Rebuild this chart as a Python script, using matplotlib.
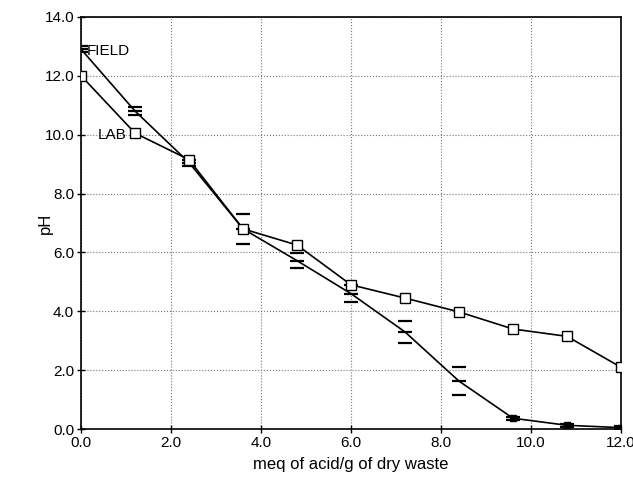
import matplotlib
matplotlib.use("Agg")
import matplotlib.pyplot as plt
import numpy as np

plt.rcParams['font.family'] = ['Liberation Sans', 'DejaVu Sans']

# acid added, meq/g of dry waste
acid = [0.0, 1.2, 2.4, 3.6, 4.8, 6.0, 7.2, 8.4, 9.6, 10.8, 12.0]

# lab titration
lab_ph = [12.0, 10.05, 9.15, 6.8, 6.25, 4.9, 4.45, 3.98, 3.4, 3.15, 2.1]

# field titration (mean and spread)
field_ph = [12.9, 10.8, 9.05, 6.8, 5.72, 4.6, 3.3, 1.63, 0.37, 0.13, 0.05]
field_err = [0.1, 0.15, 0.1, 0.5, 0.25, 0.3, 0.37, 0.47, 0.05, 0.05, 0.05]

fig = plt.figure(figsize=(6.33, 4.8), dpi=100)
ax = fig.add_axes([0.128, 0.106, 0.853, 0.859])

# field: line, short dashes for mean and error caps
ax.plot(acid, field_ph, color='black', lw=1.2, zorder=3)
ax.errorbar(acid, field_ph, yerr=field_err, fmt='none', ecolor='black',
            elinewidth=0, capsize=5, capthick=1.6, zorder=4)
ax.plot(acid[:-3], field_ph[:-3], ls='none', marker='_', ms=10, mew=1.6,
        color='black', zorder=4)
ax.plot(acid[-3:], field_ph[-3:], ls='none', marker='s', ms=5,
        color='black', zorder=5)

# lab: open squares
ax.plot(acid, lab_ph, color='black', lw=1.2, marker='s', ms=6.5,
        mfc='white', mec='black', mew=1.0, zorder=4)

ax.text(0.12, 12.85, 'FIELD', fontsize=11, va='center', ha='left')
ax.text(0.38, 10.0, 'LAB', fontsize=11, va='center', ha='left')

ax.set_xlim(0, 12)
ax.set_ylim(0, 14)
ax.set_xticks(np.arange(0, 12.1, 2))
ax.set_yticks(np.arange(0, 14.1, 2))
ax.set_xticklabels([f'{v:.1f}' for v in np.arange(0, 12.1, 2)])
ax.set_yticklabels([f'{v:.1f}' for v in np.arange(0, 14.1, 2)])
ax.tick_params(labelsize=11, direction='inout', length=6, width=1, pad=2)
ax.grid(True, ls=':', color='#777777', lw=0.8)
for s in ax.spines.values():
    s.set_linewidth(1.2)

ax.set_xlabel('meq of acid/g of dry waste', fontsize=12, labelpad=5)
ax.set_ylabel('pH', fontsize=12, labelpad=-6)

fig.savefig('out.png', dpi=100)
